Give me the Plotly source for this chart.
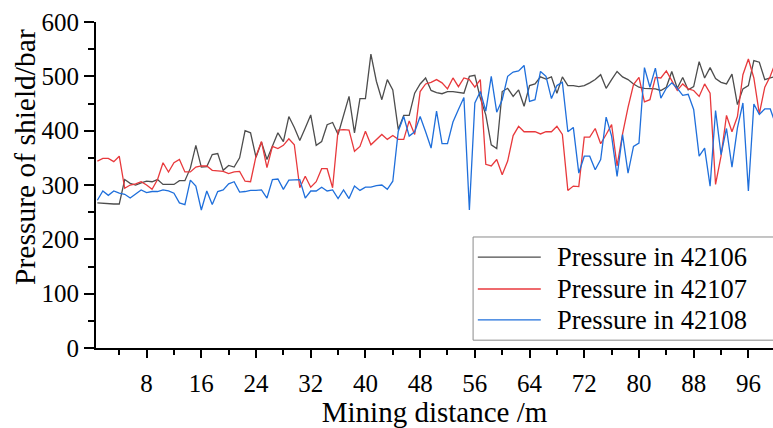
import numpy as np
import plotly.graph_objects as go

# Mining distance (m) - one reading every 0.8 m
distance = [round(0.8 * k, 1) for k in range(1, 126)]

pressure_42106 = [
    267, 266, 266, 265, 265, 310, 303, 300, 304, 307, 306, 310, 301, 301, 301, 308, 308, 331, 373, 333, 334,
    356, 358, 327, 336, 333, 350, 400, 396, 351, 379, 347, 371, 396, 380, 426, 406, 382, 405, 429, 373, 380,
    411, 415, 393, 429, 463, 396, 459, 459, 541, 491, 457, 494, 475, 402, 428, 428, 469, 486, 497, 474,
    470, 468, 472, 472, 471, 469, 500, 502, 460, 429, 374, 367, 472, 478, 463, 475, 445, 483, 486, 499, 495,
    499, 469, 499, 483, 483, 481, 483, 488, 494, 503, 478, 494, 509, 499, 494, 486, 480, 478, 478, 477, 474,
    480, 509, 478, 498, 475, 481, 527, 497, 516, 496, 489, 486, 504, 448, 477, 483, 529, 526, 494, 497, 500,
]

pressure_42107 = [
    344, 349, 349, 343, 353, 294, 300, 302, 306, 300, 292, 310, 341, 324, 341, 347, 324, 324, 333, 335, 335,
    327, 326, 325, 321, 324, 325, 307, 306, 353, 380, 332, 371, 367, 373, 385, 374, 295, 316, 296, 306, 330,
    330, 295, 401, 402, 401, 362, 371, 399, 374, 384, 393, 384, 391, 384, 384, 418, 393, 472, 486, 489,
    494, 488, 477, 497, 481, 497, 494, 480, 494, 338, 335, 347, 319, 344, 391, 408, 398, 398, 398, 394, 398,
    398, 408, 393, 290, 298, 297, 388, 388, 404, 376, 393, 411, 335, 394, 443, 485, 498, 453, 457, 498, 497,
    510, 492, 474, 486, 477, 474, 463, 486, 469, 301, 353, 428, 398, 426, 503, 532, 497, 431, 480, 500, 527,
]

pressure_42108 = [
    272, 289, 281, 289, 285, 283, 276, 283, 291, 286, 288, 288, 291, 289, 285, 267, 264, 309, 298, 254, 289, 264,
    288, 291, 302, 306, 287, 288, 290, 290, 291, 276, 310, 311, 292, 309, 309, 310, 276, 289, 289, 296,
    289, 291, 275, 291, 275, 298, 290, 296, 296, 299, 300, 292, 307, 399, 426, 390, 398, 426, 398, 368,
    436, 376, 376, 416, 439, 461, 254, 451, 472, 436, 500, 434, 457, 500, 508, 510, 520, 454, 457, 509, 500,
    459, 483, 489, 398, 406, 322, 353, 353, 328, 347, 425, 390, 316, 393, 322, 371, 377, 516, 480, 515, 460,
    478, 488, 478, 465, 467, 439, 353, 368, 298, 437, 356, 404, 333, 405, 451, 289, 449, 430, 440, 440, 411,
]

series_names = ["Pressure in 42106", "Pressure in 42107", "Pressure in 42108"]
series_colors = ["#4d4d4d", "#e8393c", "#1f6fdb"]
x_tick_vals = [8, 16, 24, 32, 40, 48, 56, 64, 72, 80, 88, 96]
y_tick_vals = [0, 100, 200, 300, 400, 500, 600]

FONT = "Liberation Serif, Times New Roman, serif"

fig = go.Figure()
for name, vals, col in zip(series_names, [pressure_42106, pressure_42107, pressure_42108], series_colors):
    fig.add_trace(go.Scatter(x=distance, y=vals, mode="lines", name=name,
                             line=dict(color=col, width=1.3), showlegend=False))

# Legend drawn as a framed box with line samples and text labels (paper coords)
legend_rows_y = [0.279, 0.181, 0.086]
fig.add_shape(type="rect", xref="paper", yref="paper", x0=0.557, x1=1.03, y0=0.024, y1=0.3405,
              line=dict(color="#8a8a8a", width=1), fillcolor="white", layer="above")
for name, col, ry in zip(series_names, series_colors, legend_rows_y):
    fig.add_shape(type="line", xref="paper", yref="paper", x0=0.564, x1=0.657, y0=ry, y1=ry,
                  line=dict(color=col, width=1.3), layer="above")
    fig.add_annotation(xref="paper", yref="paper", x=0.678, y=ry, xanchor="left", yanchor="middle",
                       text=name, showarrow=False, font=dict(family=FONT, size=26.5, color="black"))

fig.add_annotation(xref="paper", yref="paper", x=-0.105, y=0.586, xanchor="center", yanchor="middle",
                   text="Pressure of shield/bar", textangle=-90, showarrow=False,
                   font=dict(family=FONT, size=29.5, color="black"))

fig.update_layout(
    width=773, height=428,
    margin=dict(l=96, r=0, t=22, b=80),
    paper_bgcolor="white", plot_bgcolor="white",
    font=dict(family=FONT, color="black", size=25),
    showlegend=False,
)

fig.update_xaxes(
    range=[0.6, 99.6], tickmode="array", tickvals=x_tick_vals,
    ticktext=[str(v) for v in x_tick_vals],
    ticks="outside", ticklen=8, tickwidth=1.5, tickcolor="black",
    showline=True, linecolor="black", linewidth=2, mirror=False,
    showgrid=False, zeroline=False, ticklabelstandoff=4,
    tickfont=dict(family=FONT, size=25),
    minor=dict(tickvals=[4, 12, 20, 28, 36, 44, 52, 60, 68, 76, 84, 92],
               ticks="outside", ticklen=5, tickwidth=1.5, tickcolor="black"),
    title=dict(text="Mining distance /m", font=dict(family=FONT, size=29), standoff=6),
)
fig.update_yaxes(
    range=[0, 600], tickmode="array", tickvals=y_tick_vals,
    ticks="outside", ticklen=10, tickwidth=1.5, tickcolor="black",
    showline=True, linecolor="black", linewidth=2, mirror=False,
    showgrid=False, zeroline=False,
    tickfont=dict(family=FONT, size=25),
    minor=dict(tickvals=[50, 150, 250, 350, 450, 550],
               ticks="outside", ticklen=6, tickwidth=1.5, tickcolor="black"),
)

fig.write_html("out.html")
